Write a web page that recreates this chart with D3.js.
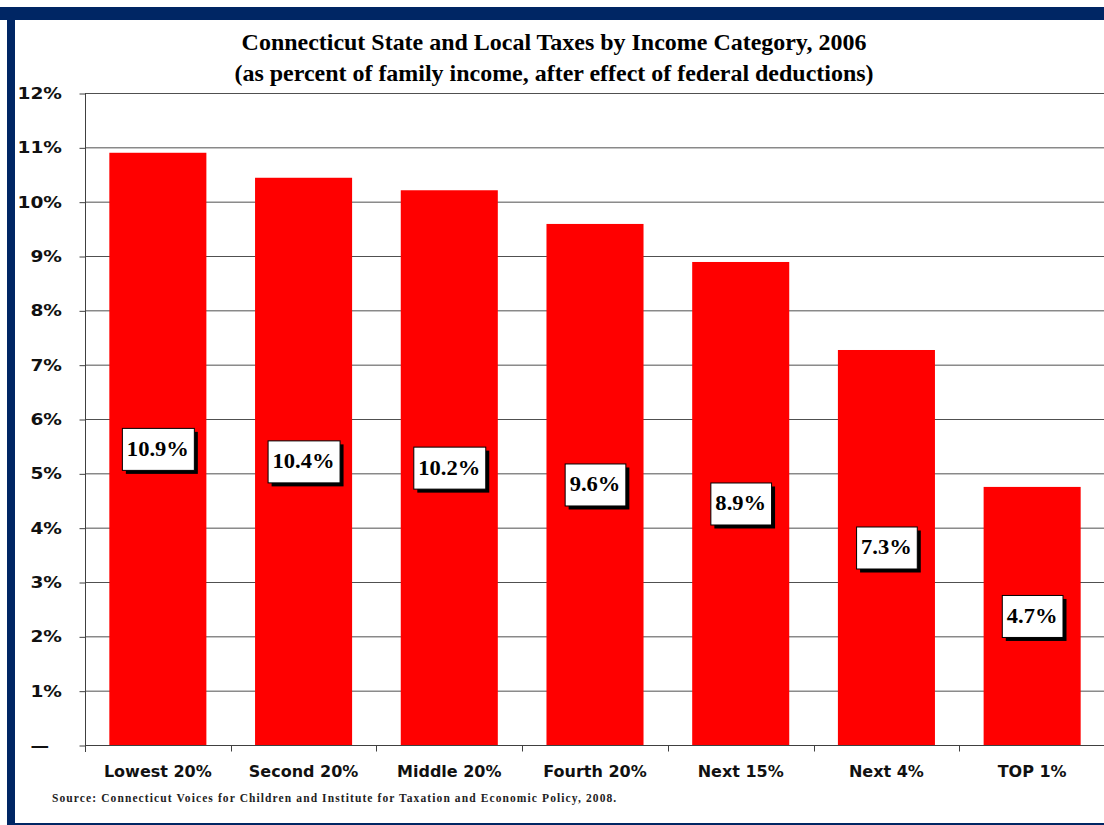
<!DOCTYPE html>
<html><head><meta charset="utf-8">
<script src="https://cdn.jsdelivr.net/npm/d3@7"></script>
<style>body{margin:0;background:#fff}svg{display:block}</style>
</head><body>
<svg id="c" width="1104" height="825"></svg>
<script>
const categories = ["Lowest 20%","Second 20%","Middle 20%","Fourth 20%","Next 15%","Next 4%","TOP 1%"];
const values = [10.9, 10.44, 10.21, 9.59, 8.89, 7.27, 4.75];
const valueLabels = ["10.9%","10.4%","10.2%","9.6%","8.9%","7.3%","4.7%"];
const yTicks = [0,1,2,3,4,5,6,7,8,9,10,11,12];
const yTickLabels = ["\u2014\u00a0\u00a0","1%","2%","3%","4%","5%","6%","7%","8%","9%","10%","11%","12%"];
const titleLines = ["Connecticut State and Local Taxes by Income Category, 2006","(as percent of family income, after effect of federal deductions)"];
const sourceText = "Source: Connecticut Voices for Children and Institute for Taxation and Economic Policy, 2008.";

const svg = d3.select("#c");
const navy = "#002664";
// frame
svg.append("rect").attr("x",0).attr("y",7).attr("width",1104).attr("height",13).attr("fill",navy);
svg.append("rect").attr("x",7).attr("y",7).attr("width",8).attr("height",818).attr("fill",navy);
svg.append("rect").attr("x",7).attr("y",823).attr("width",1097).attr("height",2).attr("fill",navy);

const x = d3.scaleBand().domain(categories).range([85,1105]).paddingInner(0.334).paddingOuter(0.167);
const y = d3.scaleLinear().domain([0,12]).range([745,93]);

function stext(g, x0, y0, txt, sx){
  return g.append("text").attr("transform",`translate(${x0},${y0}) scale(${sx},1)`).text(txt);
}

// title
const tg = svg.append("g").attr("font-family","'Liberation Serif','Times New Roman',serif").attr("font-weight","bold").attr("font-size",22.5).attr("fill","#000").attr("text-anchor","middle");
stext(tg,554,50,titleLines[0],1.065);
stext(tg,554,81,titleLines[1],1.065);

// gridlines
svg.append("g").selectAll("line").data(yTicks.filter(d=>d>0)).join("line")
  .attr("x1",85).attr("x2",1104).attr("y1",d=>y(d)+0.5).attr("y2",d=>y(d)+0.5)
  .attr("stroke","#505050").attr("stroke-width",1);

// bars
svg.append("g").selectAll("rect").data(values).join("rect")
  .attr("x",(d,i)=>x(categories[i])).attr("width",x.bandwidth())
  .attr("y",d=>y(d)).attr("height",d=>y(0)-y(d)).attr("fill","#ff0000");

// y axis
const yAxis = d3.axisLeft(y).tickValues(yTicks).tickSize(6).tickFormat((d,i)=>yTickLabels[i]);
const ya = svg.append("g").attr("transform","translate(85.5,0.5)").call(yAxis);
ya.select(".domain").remove();
ya.selectAll(".tick line").attr("stroke","#404040");
ya.selectAll(".tick text").remove();
svg.append("line").attr("x1",85.5).attr("x2",85.5).attr("y1",93).attr("y2",752).attr("stroke","#404040");
const yl = svg.append("g").attr("font-family","'DejaVu Sans',Verdana,sans-serif").attr("font-weight","bold").attr("font-size",15.5).attr("fill","#111").attr("text-anchor","end");
yTicks.forEach((d,i)=>{
  stext(yl,62,y(d)+6,yTickLabels[i],1.2).style("white-space","pre");
});

// x axis
const xa = svg.append("g").attr("transform","translate(0,745.5)");
xa.append("line").attr("x1",85).attr("x2",1104).attr("stroke","#404040");
const bounds = categories.map(c=>x(c)-x.step()*x.paddingInner()/2).concat([1105]);
bounds[0]=85;
xa.selectAll("line.t").data(bounds).join("line").attr("class","t")
  .attr("x1",d=>Math.round(d)+0.5).attr("x2",d=>Math.round(d)+0.5).attr("y1",0).attr("y2",6).attr("stroke","#404040");
xa.selectAll("text").data(categories).join("text")
  .attr("x",d=>x(d)+x.bandwidth()/2).attr("y",31.5)
  .attr("text-anchor","middle").attr("font-family","'DejaVu Sans',Verdana,sans-serif")
  .attr("font-weight","bold").attr("font-size",16).attr("fill","#111").text(d=>d);

// value labels
const lg = svg.append("g");
values.forEach((v,i)=>{
  const cx = x(categories[i])+x.bandwidth()/2;
  const cy = (y(v)+y(0))/2;
  const g = lg.append("g");
  const t = g.append("text").attr("font-family","'Liberation Serif','Times New Roman',serif")
    .attr("font-weight","bold").attr("font-size",20.5).attr("text-anchor","middle")
    .attr("transform",`translate(${cx},${cy+7}) scale(1.1,1)`).text(valueLabels[i]);
  const w = t.node().getComputedTextLength()*1.1 + 10;
  const h = 42;
  g.insert("rect","text").attr("x",cx-w/2+4).attr("y",cy-h/2+4).attr("width",w).attr("height",h).attr("fill","#000");
  g.insert("rect","text").attr("x",cx-w/2+0.5).attr("y",cy-h/2+0.5).attr("width",w).attr("height",h).attr("fill","#fff").attr("stroke","#000").attr("stroke-width",1);
});

// source
svg.append("text").attr("x",52).attr("y",802).attr("font-family","'Liberation Serif','Times New Roman',serif")
  .attr("font-weight","bold").attr("font-size",11.5).attr("letter-spacing",1.1).attr("fill","#222").text(sourceText);
</script>
</body></html>
